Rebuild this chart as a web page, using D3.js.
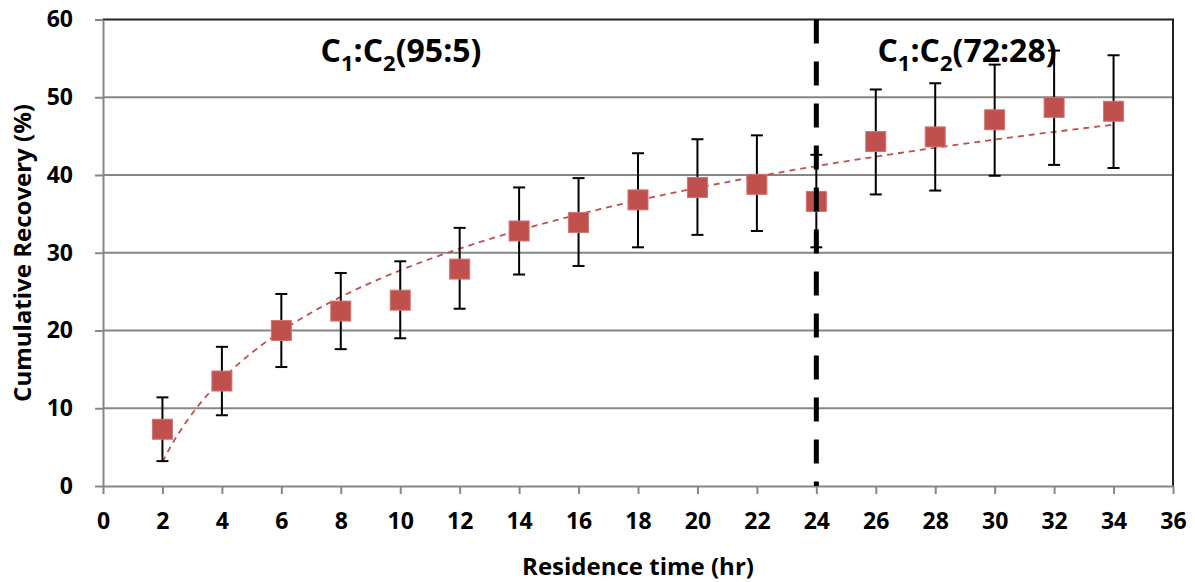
<!DOCTYPE html>
<html lang='en'>
<head>
<meta charset="utf-8">
<style>
body { margin: 0; background: #fff; }
text { font-family: "Open Sans", Lato, sans-serif; font-weight: bold; fill: #000; }
.grid line { stroke: #868686; stroke-width: 2px; }
.axis path, .axis line { stroke: #868686; stroke-width: 2px; fill: none; }
.axis text { font-size: 23px; font-family: "Open Sans", sans-serif; }
.err line { stroke: #000; stroke-width: 2px; }
</style>
</head>
<body>
<svg width="1195" height="582"></svg>
<script src="https://cdn.jsdelivr.net/npm/d3@7"></script>
<script>
var times = [2, 4, 6, 8, 10, 12, 14, 16, 18, 20, 22, 24, 26, 28, 30, 32, 34];
var recovery = [7.3, 13.5, 20.0, 22.5, 23.9, 27.9, 32.8, 33.9, 36.8, 38.4, 38.8, 36.6, 44.3, 44.9, 47.1, 48.7, 48.2];
var errUpper = [11.4, 17.9, 24.7, 27.4, 28.9, 33.2, 38.4, 39.6, 42.8, 44.6, 45.1, 42.6, 51.0, 51.8, 54.2, 56.0, 55.4];
var errLower = [3.2, 9.1, 15.3, 17.6, 19.0, 22.8, 27.2, 28.3, 30.7, 32.3, 32.8, 30.7, 37.5, 38.0, 39.9, 41.3, 40.9];
var xTicks = d3.range(0, 37, 2);
var yTicks = [0, 10, 20, 30, 40, 50, 60];
var switchTime = 24;

var svg = d3.select("svg");
var plotL = 103, plotR = 1173, plotT = 19.5, plotB = 486;

var x = d3.scaleLinear().domain([0, 36]).range([plotL, plotR]),
    y = d3.scaleLinear().domain([0, 60]).range([plotB, plotT]);

// gridlines
svg.append("g").attr("class", "grid")
  .selectAll("line").data(yTicks.filter(function(d) { return d > 0 && d < 60; }))
  .enter().append("line")
    .attr("x1", plotL).attr("x2", plotR)
    .attr("y1", function(d) { return y(d); })
    .attr("y2", function(d) { return y(d); });

// top and right border
svg.append("path")
    .attr("d", "M" + plotL + "," + y(60) + "H" + plotR + "V" + plotB)
    .attr("fill", "none").attr("stroke", "#222").attr("stroke-width", 2);

svg.append("g").attr("class", "axis")
    .attr("transform", "translate(0," + plotB + ")")
    .call(d3.axisBottom(x).tickValues(xTicks).tickSize(8).tickSizeOuter(0).tickPadding(19));

svg.append("g").attr("class", "axis")
    .attr("transform", "translate(" + plotL + ",0)")
    .call(d3.axisLeft(y).tickValues(yTicks).tickSize(8).tickSizeOuter(0).tickPadding(22));

// log trendline, least squares on ln(x)
var lx = times.map(Math.log),
    mx = d3.mean(lx), my = d3.mean(recovery),
    a = d3.sum(lx, function(v, i) { return (v - mx) * (recovery[i] - my); }) /
        d3.sum(lx, function(v) { return (v - mx) * (v - mx); }),
    b = my - a * mx;
var fitX = d3.range(times[0], times[times.length - 1] + 0.01, 0.25);
svg.append("path")
    .datum(fitX)
    .attr("fill", "none").attr("stroke", "#c0504d").attr("stroke-width", 1.8)
    .attr("stroke-dasharray", "6,5")
    .attr("d", d3.line().x(function(d) { return x(d); }).y(function(d) { return y(a * Math.log(d) + b); }));

// error bars
var err = svg.append("g").attr("class", "err").selectAll("g").data(times).enter().append("g");
err.append("line")
    .attr("x1", function(d) { return x(d); }).attr("x2", function(d) { return x(d); })
    .attr("y1", function(d, i) { return y(errUpper[i]); })
    .attr("y2", function(d, i) { return y(errLower[i]); });
err.append("line")
    .attr("x1", function(d) { return x(d) - 6; }).attr("x2", function(d) { return x(d) + 6; })
    .attr("y1", function(d, i) { return y(errUpper[i]); })
    .attr("y2", function(d, i) { return y(errUpper[i]); });
err.append("line")
    .attr("x1", function(d) { return x(d) - 6; }).attr("x2", function(d) { return x(d) + 6; })
    .attr("y1", function(d, i) { return y(errLower[i]); })
    .attr("y2", function(d, i) { return y(errLower[i]); });

// markers
var s = 20;
svg.append("g").selectAll("rect").data(times).enter().append("rect")
    .attr("x", function(d) { return x(d) - s / 2; })
    .attr("y", function(d, i) { return y(recovery[i]) - s / 2; })
    .attr("width", s).attr("height", s)
    .attr("fill", "#c0504d").attr("stroke", "#d27370").attr("stroke-width", 1);

// phase switch line
svg.append("line")
    .attr("x1", x(switchTime)).attr("x2", x(switchTime))
    .attr("y1", plotT).attr("y2", plotB)
    .attr("stroke", "#000").attr("stroke-width", 5)
    .attr("stroke-dasharray", "24,18");

// annotations
function ratioLabel(cx, txt) {
  var t = svg.append("text").attr("x", cx).attr("y", 62).attr("font-size", 32).attr("text-anchor", "middle");
  t.append("tspan").text("C");
  t.append("tspan").attr("font-size", 22).attr("dy", 9).text("1");
  t.append("tspan").attr("dy", -9).text(":C");
  t.append("tspan").attr("font-size", 22).attr("dy", 9).text("2");
  t.append("tspan").attr("dy", -9).text(txt);
}
ratioLabel(401, "(95:5)");
ratioLabel(967, "(72:28)");

// axis titles
svg.append("text").attr("x", 638).attr("y", 575).attr("text-anchor", "middle")
    .attr("font-size", 24).text("Residence time (hr)");
svg.append("text").attr("transform", "translate(31,253) rotate(-90)").attr("text-anchor", "middle")
    .attr("font-size", 24).text("Cumulative Recovery (%)");
</script>
</body>
</html>
